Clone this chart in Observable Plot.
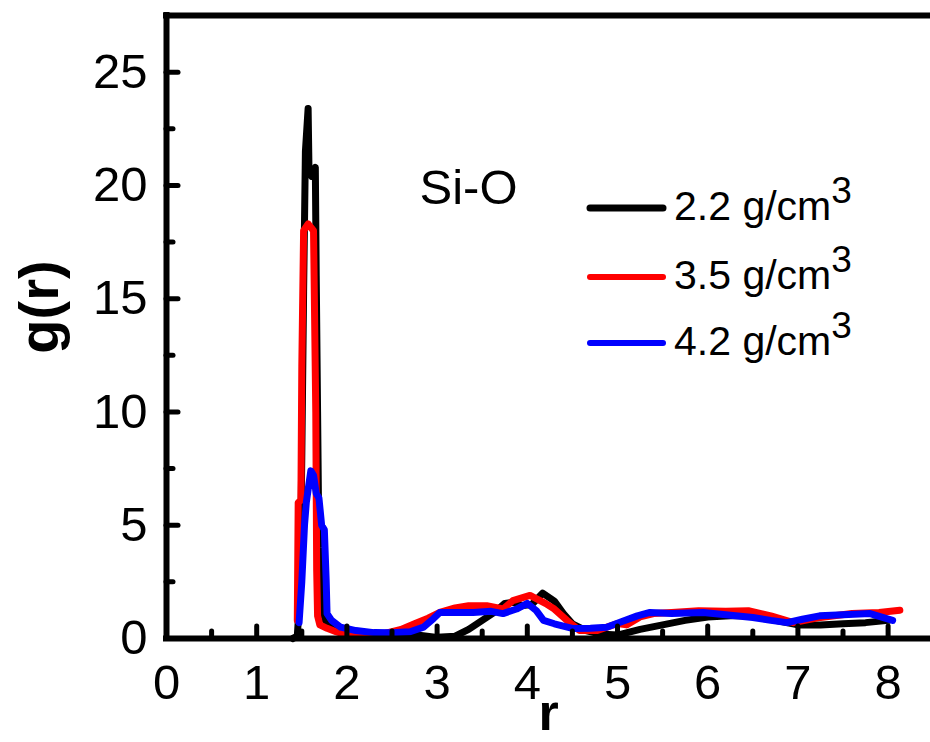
<!DOCTYPE html>
<html>
<head>
<meta charset="utf-8">
<script src="https://cdn.jsdelivr.net/npm/d3@7"></script>
<script src="https://cdn.jsdelivr.net/npm/@observablehq/plot@0.6"></script>
<style>
  body { margin: 0; background: #fff; }
  #wrap { position: relative; width: 930px; height: 742px; overflow: hidden; background: #fff; }
  #wrap svg { display: block; }
</style>
</head>
<body>
<div id="wrap"></div>
<script>
// ---- data ----
const densities = ["2.2 g/cm3", "3.5 g/cm3", "4.2 g/cm3"];
const densityLabels = ["2.2 g/cm", "3.5 g/cm", "4.2 g/cm"];
const panelLabel = "Si-O";

const r_22 = [1.40, 1.45, 1.48, 1.50, 1.52, 1.54, 1.57, 1.58, 1.61, 1.63, 1.65, 1.66, 1.675, 1.69, 1.72, 1.76, 1.82, 1.90, 2.0, 2.2, 2.5, 2.8, 3.0, 3.2, 3.35, 3.5, 3.65, 3.75, 3.85, 3.95, 4.05, 4.17, 4.3, 4.4, 4.5, 4.65, 4.8, 5.0, 5.25, 5.5, 5.75, 6.0, 6.25, 6.5, 6.75, 7.0, 7.25, 7.5, 7.75, 8.0];
const g_22 = [0, 0.1, 2, 8, 15.3, 21.5, 23.4, 20.6, 20.4, 20.5, 20.8, 16, 10, 4, 1.5, 0.8, 0.5, 0.4, 0.3, 0.25, 0.2, 0.15, 0.05, 0.1, 0.4, 0.8, 1.2, 1.55, 1.6, 1.45, 1.5, 2.0, 1.65, 1.1, 0.65, 0.35, 0.2, 0.15, 0.4, 0.6, 0.8, 0.95, 1.0, 1.0, 0.8, 0.6, 0.6, 0.65, 0.7, 0.8];

const r_35 = [1.45, 1.46, 1.49, 1.50, 1.52, 1.57, 1.63, 1.655, 1.665, 1.675, 1.70, 1.78, 1.88, 2.0, 2.2, 2.4, 2.6, 2.75, 2.9, 3.03, 3.2, 3.35, 3.55, 3.73, 3.84, 4.03, 4.2, 4.3, 4.44, 4.58, 4.77, 5.0, 5.1, 5.25, 5.4, 5.6, 5.9, 6.2, 6.45, 6.7, 6.95, 7.25, 7.6, 7.9, 8.13];
const g_35 = [0.8, 6.0, 6.1, 12, 18.0, 18.3, 18.0, 10, 3, 1.0, 0.6, 0.45, 0.3, 0.15, 0.15, 0.2, 0.4, 0.65, 0.9, 1.15, 1.35, 1.45, 1.45, 1.3, 1.67, 1.9, 1.55, 1.3, 0.8, 0.35, 0.35, 0.66, 0.6, 0.95, 1.1, 1.15, 1.23, 1.2, 1.23, 1.0, 0.7, 0.93, 1.1, 1.15, 1.25];

const r_42 = [1.47, 1.50, 1.53, 1.55, 1.60, 1.63, 1.66, 1.69, 1.72, 1.75, 1.77, 1.78, 1.83, 1.93, 2.1, 2.3, 2.5, 2.7, 2.85, 2.96, 3.03, 3.2, 3.4, 3.6, 3.73, 3.88, 4.0, 4.1, 4.18, 4.3, 4.51, 4.7, 4.88, 5.05, 5.22, 5.36, 5.6, 5.95, 6.2, 6.5, 6.7, 6.88, 7.05, 7.24, 7.5, 7.8, 8.05];
const g_42 = [0.7, 2.5, 5.0, 6.0, 7.4, 7.2, 6.4, 6.2, 5.0, 4.8, 2.6, 1.1, 0.8, 0.5, 0.35, 0.26, 0.25, 0.3, 0.5, 0.88, 1.15, 1.15, 1.15, 1.2, 1.1, 1.3, 1.55, 1.23, 0.8, 0.65, 0.44, 0.45, 0.5, 0.75, 1.0, 1.15, 1.1, 1.15, 1.05, 0.93, 0.8, 0.7, 0.85, 1.0, 1.05, 1.1, 0.8];

const xTickValues = [0, 1, 2, 3, 4, 5, 6, 7, 8];
const xMinorTicks = [0.5, 1.5, 2.5, 3.5, 4.5, 5.5, 6.5, 7.5];
const yTickValues = [0, 5, 10, 15, 20, 25];
const yMinorTicks = [2.5, 7.5, 12.5, 17.5, 22.5];
const xDomain = [0, 8.47];
const yDomain = [0, 27.5];

// ---- styles ----
const colors = ["#000000", "#ff0000", "#0000ff"];
const font = "'Liberation Sans', Arial, Helvetica, sans-serif";

const seriesR = [r_22, r_35, r_42];
const seriesG = [g_22, g_35, g_42];
const rows = densities.flatMap((s, k) => seriesR[k].map((r, i) => ({r, g: seriesG[k][i], s})));

const chart = Plot.plot({
  width: 930,
  height: 742,
  marginLeft: 166,
  marginRight: 0,
  marginTop: 15,
  marginBottom: 104,
  x: {domain: xDomain},
  y: {domain: yDomain},
  color: {domain: densities, range: colors},
  style: {fontFamily: font, color: "#000", background: "#fff", overflow: "visible"},
  marks: [
    Plot.line(rows, {x: "r", y: "g", z: "s", stroke: "s", strokeWidth: 7, strokeLinejoin: "round", strokeLinecap: "round"}),
    // frame (left, bottom, top)
    Plot.ruleX([xDomain[0]], {strokeWidth: 6, strokeLinecap: "square"}),
    Plot.ruleY([yDomain[0]], {strokeWidth: 6, strokeLinecap: "square"}),
    Plot.ruleY([yDomain[1]], {strokeWidth: 6, strokeLinecap: "square"}),
    // inward ticks
    Plot.axisX(xTickValues, {tickSize: -12, strokeWidth: 5, strokeLinecap: "round", text: null, label: null}),
    Plot.axisX(xMinorTicks, {tickSize: -7, strokeWidth: 5, strokeLinecap: "round", text: null, label: null}),
    Plot.axisY(yTickValues, {tickSize: -12, strokeWidth: 5, strokeLinecap: "round", text: null, label: null}),
    Plot.axisY(yMinorTicks, {tickSize: -7, strokeWidth: 5, strokeLinecap: "round", text: null, label: null}),
    // tick labels
    Plot.axisX(xTickValues, {tickSize: 0, tickPadding: 26, fontSize: 49, label: null, tickFormat: d => String(d)}),
    Plot.axisY(yTickValues, {tickSize: 0, tickPadding: 19, fontSize: 49, label: null, tickFormat: d => String(d)}),
    // axis titles
    Plot.text(["g(r)"], {frameAnchor: "left", dx: -126, dy: -20, rotate: -90, fontSize: 56, fontWeight: "bold", textAnchor: "middle"}),
    Plot.text(["r"], {frameAnchor: "bottom", dy: 91, fontSize: 52, fontWeight: "bold", lineAnchor: "bottom", textAnchor: "middle"}),
    // panel label
    Plot.text([panelLabel], {frameAnchor: "top-left", dx: 253, dy: 188, fontSize: 49, lineAnchor: "bottom", textAnchor: "start"})
  ]
});

const wrap = document.getElementById("wrap");
wrap.appendChild(chart);

// ---- legend overlay ----
const leg = d3.select(wrap).append("svg")
  .attr("width", 930).attr("height", 742)
  .style("position", "absolute").style("left", "0px").style("top", "0px")
  .style("pointer-events", "none");

const legendRowY = [208, 277, 343];
densities.forEach((s, k) => {
  const y = legendRowY[k];
  leg.append("line")
    .attr("x1", 590).attr("x2", 663).attr("y1", y).attr("y2", y)
    .attr("stroke", colors[k]).attr("stroke-width", k === 0 ? 7 : 6)
    .attr("stroke-linecap", "round");
  const t = leg.append("text")
    .attr("x", 674).attr("y", y + 12)
    .attr("font-family", font).attr("font-size", 41).attr("fill", "#000");
  t.append("tspan").text(densityLabels[k]);
  t.append("tspan").attr("dy", -17).attr("font-size", 37).text("3");
});
</script>
</body>
</html>
